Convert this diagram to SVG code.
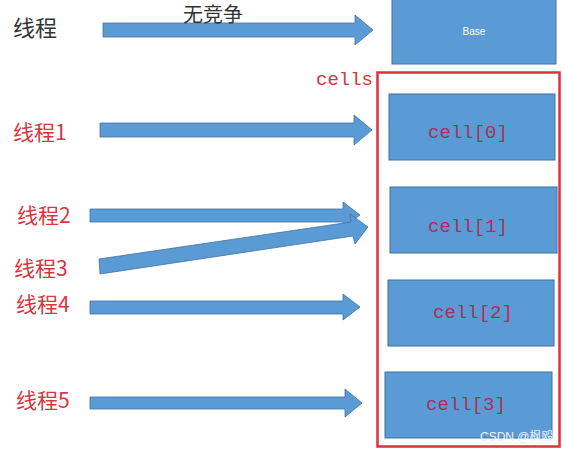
<svg xmlns="http://www.w3.org/2000/svg" width="564" height="451" viewBox="0 0 564 451">
<style>
.arrow{fill:#5b9bd5;stroke:#41719c;stroke-width:0.8}
.box{fill:#5b9bd5;stroke:#41719c;stroke-width:1}
.lbl{font-family:"Noto Sans CJK SC","Liberation Sans",sans-serif;font-size:21px;fill:#d8353d}
.lblk{font-family:"Noto Sans CJK SC","Liberation Sans",sans-serif;font-size:22px;fill:#333}
.mono{font-family:"Liberation Mono","DejaVu Sans Mono",monospace;font-size:19px;fill:#a8305a}
</style>
<rect width="564" height="451" fill="#fff"/>
<g id="base">
<rect class="box" x="392" y="-2" width="164" height="66"/>
<text x="474" y="35" text-anchor="middle" font-family="Liberation Sans,sans-serif" font-size="10" fill="#fff">Base</text>
</g>
<g id="cells">
<rect x="377.5" y="72.5" width="182" height="374" fill="none" stroke="#e0303a" stroke-width="2.5"/>
<text x="316" y="85" class="mono" style="fill:#d8353d">cells</text>
</g>
<g id="cell0"><rect class="box" x="389" y="94" width="166" height="66"/><text class="mono" x="468" y="138" text-anchor="middle">cell[0]</text></g>
<g id="cell1"><rect class="box" x="390" y="187" width="167" height="66"/><text class="mono" x="468" y="232" text-anchor="middle">cell[1]</text></g>
<g id="cell2"><rect class="box" x="388" y="280" width="166" height="66"/><text class="mono" x="473" y="318" text-anchor="middle">cell[2]</text></g>
<g id="cell3"><rect class="box" x="385" y="372" width="167" height="66"/><text class="mono" x="466" y="410" text-anchor="middle">cell[3]</text></g>
<g id="t0"><text class="lblk" x="13" y="36">线程</text></g>
<g id="t1"><text class="lbl" x="13" y="140">线程1</text></g>
<g id="t2"><text class="lbl" x="17" y="223">线程2</text></g>
<g id="t3"><text class="lbl" x="14" y="276">线程3</text></g>
<g id="t4"><text class="lbl" x="16" y="312">线程4</text></g>
<g id="t5"><text class="lbl" x="16" y="408">线程5</text></g>
<g id="connectors">
<path class="arrow" d="M103,23 H355 V15 L373,30 L355,45 V37 H103 Z"/>
<path class="arrow" d="M100,123 H354 V115 L372,130 L354,145 V137 H100 Z"/>
<path class="arrow" d="M90,209 H343 V202 L360,215 L343,228 V222 H90 Z"/>
<path class="arrow" d="M100,274 L99,259 L351,222 L350,214 L368,227 L355,244 L353,236 Z"/>
<path class="arrow" d="M90,301 H343 V294 L360,307 L343,320 V314 H90 Z"/>
<path class="arrow" d="M90,397 H345 V389 L362,403 L345,417 V409 H90 Z"/>
<text x="213" y="22" text-anchor="middle" font-family="Noto Sans CJK SC,sans-serif" font-size="20" fill="#333">无竞争</text>
</g>
<text x="480" y="441" font-family="Liberation Sans,Noto Sans CJK SC,sans-serif" font-size="12" fill="#eef2f8">CSDN @枫殴</text>
</svg>
